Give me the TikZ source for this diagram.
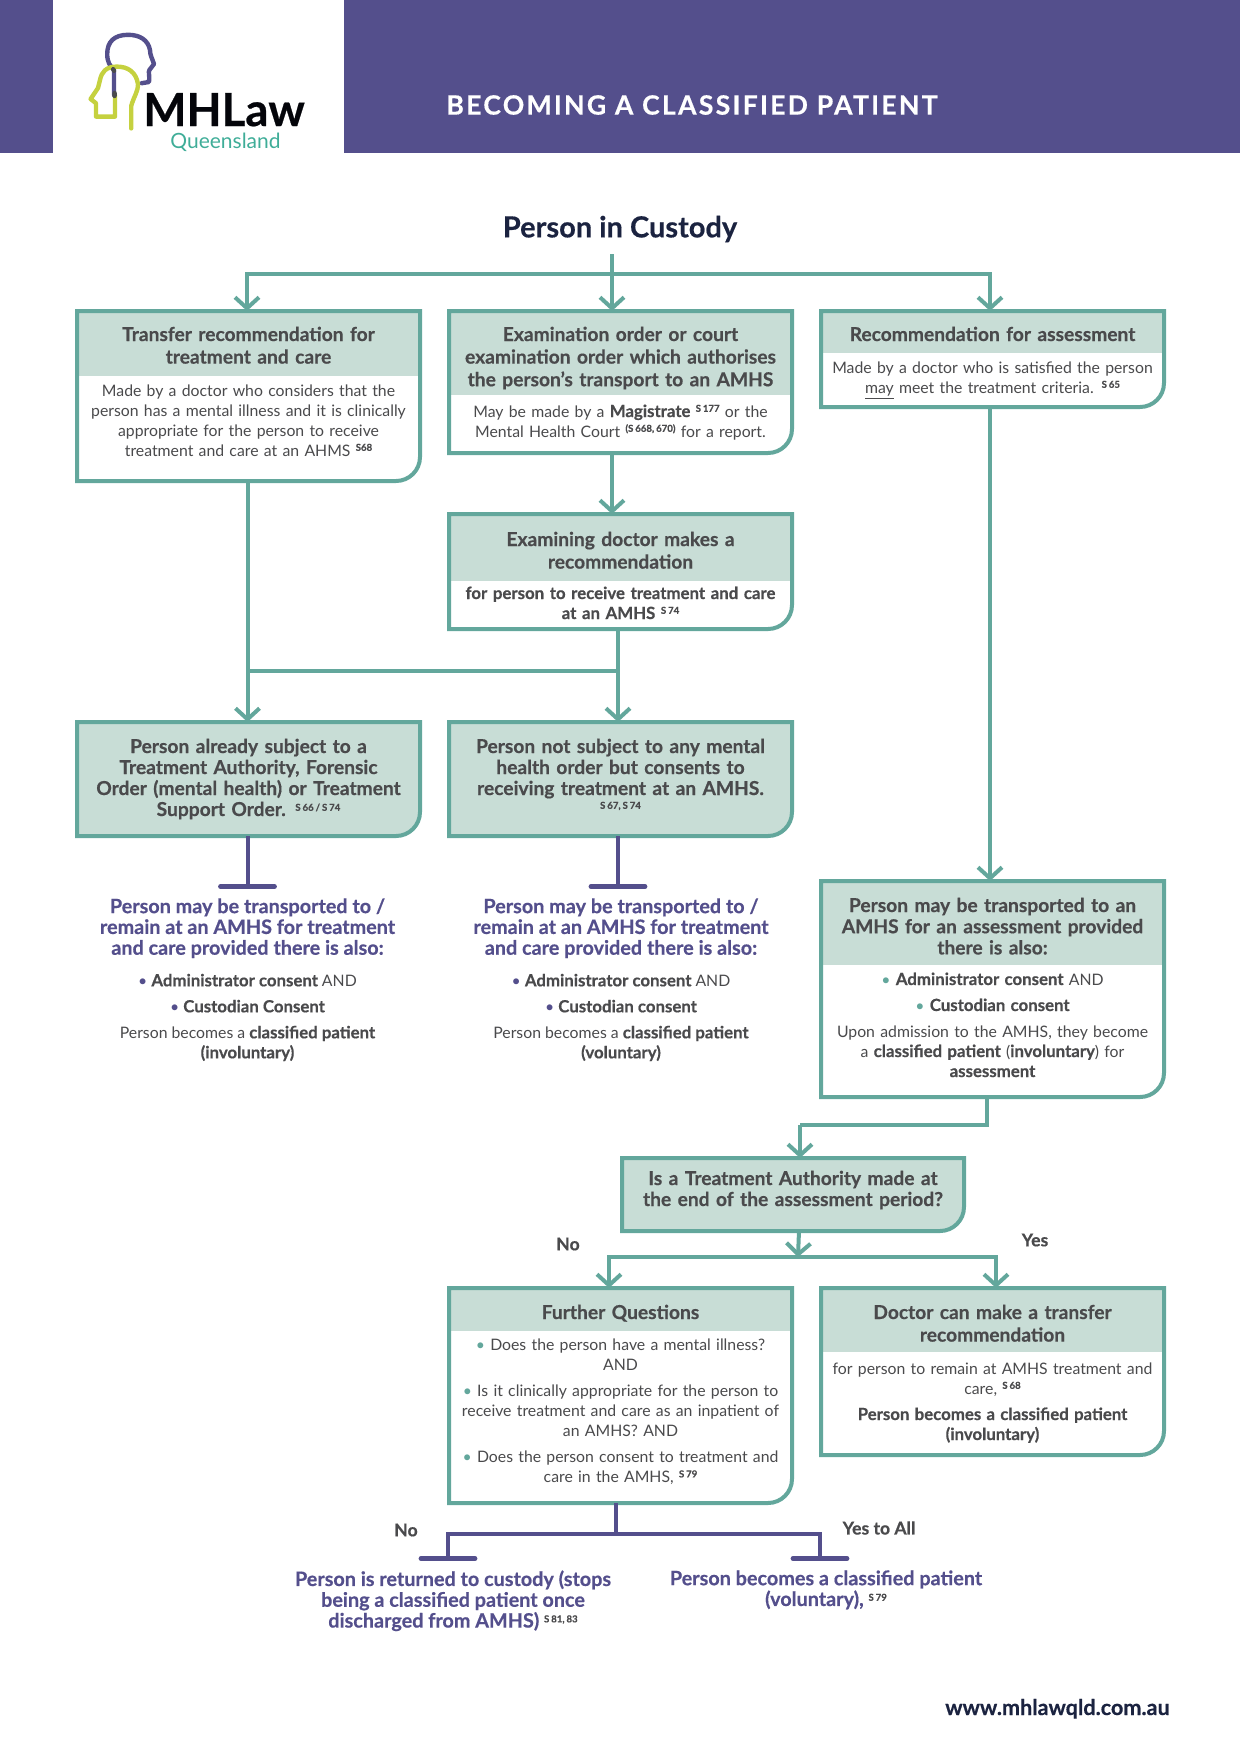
\documentclass[tikz,border=0pt]{standalone}
\usepackage{fontspec}
\setmainfont{Lato}[BoldFeatures={FakeBold=0.5}]
\usepackage{xcolor}
\usepackage{tikz}
\usetikzlibrary{positioning}
\usetikzlibrary{arrows.meta}
\usetikzlibrary{backgrounds}

\definecolor{flowteal}{HTML}{63A79C}
\definecolor{headgreen}{HTML}{C8DDD6}
\definecolor{mhpurple}{HTML}{544F8C}
\definecolor{inkgrey}{HTML}{4A4A4C}
\definecolor{inknavy}{HTML}{1B2340}
\definecolor{logolime}{HTML}{C5D13F}
\definecolor{logoteal}{HTML}{3FAD98}

\newcommand{\headfont}{\fontsize{9.6}{11.3}\selectfont\bfseries}
\newcommand{\solidfont}{\fontsize{9.6}{10.5}\selectfont\bfseries}
\newcommand{\bluefont}{\fontsize{9.9}{10.4}\selectfont\bfseries}
\newcommand{\bodyfont}{\fontsize{7.9}{10}\selectfont}
\newcommand{\bb}[1]{{\fontsize{8.4}{10}\selectfont\bfseries #1}}
\newcommand{\secref}[1]{\raisebox{2.6pt}{\fontsize{4.8}{5}\selectfont\bfseries\spaceskip=0.2em #1}}
\newcommand{\bul}[1]{{\color{#1}\textbullet}\ }

\tikzset{
  flow/.style={draw=flowteal, line width=2pt, -{Straight Barb[length=5.5pt,width=12pt,line width=2pt]}},
  flowline/.style={draw=flowteal, line width=2pt},
  tee/.style={draw=mhpurple, line width=2pt, -{Bar[width=27pt,line width=2.4pt,round]}},
  teeline/.style={draw=mhpurple, line width=2pt},
  boxline/.style={draw=flowteal, line width=2pt},
  part/.style={align=center, text width=161.5pt, inner xsep=5pt, inner ysep=0pt, outer sep=0pt, text=inkgrey},
  headbox/.style 2 args={part, fill=headgreen, font=\headfont, text height=#1, text depth=#2},
  solidbox/.style 2 args={part, font=\solidfont, text height=#1, text depth=#2},
  bodybox/.style 2 args={part, fill=white, font=\bodyfont, text height=#1, text depth=#2},
  bluetext/.style={align=center, inner sep=0pt, text=mhpurple, font=\bluefont},
  plaintext/.style={align=center, inner sep=0pt, text=inkgrey, font=\bodyfont},
  answer/.style={inner sep=0pt, text=inkgrey, font=\fontsize{8.8}{10}\selectfont\bfseries},
}

% outline of one box, round at its lower right corner only
\newcommand{\outline}[3][]{
  \draw[boxline,#1] (#3.south west) -- (#2.north west) -- (#2.north east)
    -- ([yshift=12pt]#3.south east) arc[start angle=0,end angle=-90,radius=12pt] -- cycle;
}

\begin{document}
\begin{tikzpicture}[x=1pt,y=-1pt]

  \useasboundingbox (0,0) rectangle (620,876.5);

  % Banner
  \fill[mhpurple] (0,0) rectangle (26.5,76.3);
  \fill[mhpurple] (172,0) rectangle (620,76.3);
  \node[anchor=west, inner sep=0pt, text=white, font=\fontsize{13.3}{15}\selectfont\bfseries\addfontfeature{LetterSpace=8.5}] (banner) at (223,52.5) {BECOMING A CLASSIFIED PATIENT};

  % Logo
  \draw[mhpurple, line width=2.2pt, line cap=round, line join=round]
    (70.8,41.6) -- (74.5,41) .. controls (75,38) and (74,36) .. (74.7,35) -- (77,32)
    .. controls (76,29) and (75,27.5) .. (75,25) .. controls (74,20) and (70,17.4) .. (64,17.4)
    .. controls (57,17.4) and (53.6,21) .. (53.6,27) .. controls (53.6,31) and (55,33) .. (57,35) -- (57,47.5);
  \draw[logolime, line width=2.2pt, line cap=round, line join=round]
    (65.6,64.2) -- (65.6,53) .. controls (67,48) and (69,46) .. (69,42)
    .. controls (68,36) and (64,33.3) .. (58.4,33.3) .. controls (53,33.3) and (50.8,36) .. (50,40)
    -- (49,44) -- (45.3,49.5) -- (48,51.6) -- (48,58.3) -- (57.5,58.3) -- (57.5,47.5);
  \draw[inkgrey, line width=2.2pt, line cap=round] (56.6,34.6) -- (57,35.4) (57.3,46.5) -- (57.3,48);
  \node[anchor=base west, inner sep=0pt, text=black!85!inknavy, font=\fontsize{22.8}{25}\selectfont\bfseries] (mhlaw) at (71.5,63) {MHLaw};
  \node[anchor=base west, inner sep=0pt, text=logoteal, font=\fontsize{10.5}{11}\selectfont] (queensland) at (85,74.3) {Queensland};

  % Define nodes
  \node[inner sep=0pt, text=inknavy, font=\fontsize{14.5}{16}\selectfont\bfseries] (custody) at (310,114.5) {Person in Custody};

  \node[headbox={15pt}{17.35pt}, anchor=north west] (trH) at (38.5,155.5) {Transfer recommendation for\\treatment and care};
  \node[bodybox={10.15pt}{42.5pt}, below=0pt of trH] (trB) {Made by a doctor who considers that the\\person has a mental illness and it is clinically\\appropriate for the person to receive\\treatment and care at an AHMS \secref{S68}};

  \node[headbox={15pt}{27pt}, below right=0pt and 14.5pt of trH.north east] (exH) {Examination order or court\\examination order which authorises\\the person's transport to an AMHS};
  \node[bodybox={11pt}{18pt}, below=0pt of exH] (exB) {May be made by a \bb{Magistrate} \secref{S 177} or the\\Mental Health Court \secref{(S 668, 670)} for a report.};

  \node[headbox={15pt}{5.85pt}, below right=0pt and 14.5pt of exH.north east] (rcH) {Recommendation for assessment};
  \node[bodybox={10.15pt}{17pt}, below=0pt of rcH] (rcB) {Made by a doctor who is satisfied the person\\\underline{may} meet the treatment criteria. \secref{S 65}};

  \node[headbox={16pt}{17.35pt}, below=30.5pt of exB] (edH) {Examining doctor makes a\\recommendation};
  \node[bodybox={9.15pt}{15pt}, below=0pt of edH, font=\fontsize{8.4}{10}\selectfont\bfseries] (edB) {for person to receive treatment and care\\at an AMHS \secref{S 74}};

  \node[solidbox={15.5pt}{41.5pt}, anchor=north west] (pa) at (38.5,361) {Person already subject to a\\Treatment Authority, Forensic\\Order (mental health) or Treatment\\Support Order. \secref{S 66 / S 74}};
  \node[solidbox={15.5pt}{41.5pt}, below right=0pt and 14.5pt of pa.north east] (pn) {Person not subject to any mental\\health order but consents to\\receiving treatment at an AMHS.\\[-1pt]\secref{S 67, S 74}};

  \coordinate[below=26.5pt of pa.south, xshift=-0.5pt] (paT);
  \coordinate[below=26.5pt of pn.south, xshift=-1.25pt] (pnT);
  \node[bluetext, below=4.5pt of paT] (paText) {Person may be transported to /\\remain at an AMHS for treatment\\and care provided there is also:};
  \node[bluetext, below=4.5pt of pnT, xshift=1.5pt] (pnText) {Person may be transported to /\\remain at an AMHS for treatment\\and care provided there is also:};
  \node[plaintext, below=7.5pt of paText] (paList) {\bul{mhpurple}\bb{Administrator consent} AND\\[3pt]\bul{mhpurple}\bb{Custodian Consent}\\[3pt]Person becomes a \bb{classified patient}\\\bb{(involuntary)}};
  \node[plaintext, below=7.5pt of pnText] (pnList) {\bul{mhpurple}\bb{Administrator consent} AND\\[3pt]\bul{mhpurple}\bb{Custodian consent}\\[3pt]Person becomes a \bb{classified patient}\\\bb{(voluntary)}};

  \node[headbox={15.5pt}{26.5pt}, anchor=north west, font=\fontsize{9.6}{10.6}\selectfont\bfseries] (asH) at (410.5,440.5) {Person may be transported to an\\AMHS for an assessment provided\\there is also:};
  \node[bodybox={10pt}{56pt}, below=0pt of asH] (asB) {\bul{flowteal}\bb{Administrator consent} AND\\[3pt]\bul{flowteal}\bb{Custodian consent}\\[3pt]Upon admission to the AMHS, they become\\a \bb{classified patient} (\bb{involuntary}) for\\\bb{assessment}};

  \node[solidbox={13.5pt}{23pt}, anchor=north west, text width=161pt] (tq) at (311,579) {Is a Treatment Authority made at\\the end of the assessment period?};

  \node[headbox={15.5pt}{6pt}, anchor=north west] (fqH) at (224.5,644) {Further Questions};
  \node[bodybox={9.8pt}{76.2pt}, below=0pt of fqH] (fqB) {\bul{flowteal}Does the person have a mental illness?\\AND\\[3pt]\bul{flowteal}Is it clinically appropriate for the person to\\receive treatment and care as an inpatient of\\an AMHS? AND\\[3pt]\bul{flowteal}Does the person consent to treatment and\\care in the AMHS, \secref{S 79}};

  \node[headbox={15.5pt}{16.5pt}, below right=0pt and 14.5pt of fqH.north east] (drH) {Doctor can make a transfer\\recommendation};
  \node[bodybox={11pt}{40.5pt}, below=0pt of drH] (drB) {for person to remain at AMHS treatment and\\care, \secref{S 68}\\[3pt]\bb{Person becomes a classified patient}\\\bb{(involuntary)}};

  \coordinate (retT) at (224,780.5);
  \coordinate (patT) at (410,780.5);
  \node[bluetext, below=4.5pt of retT, xshift=2.5pt] (retText) {Person is returned to custody (stops\\being a classified patient once\\discharged from AMHS) {\color{inkgrey}\secref{S 81, 83}}};
  \node[bluetext, below=4.5pt of patT, xshift=3pt] (patText) {Person becomes a classified patient\\(voluntary), {\color{inkgrey}\secref{S 79}}};

  \node[answer] (noA) at (284,622) {No};
  \node[answer] (yesA) at (517.5,620) {Yes};
  \node[answer] (noB) at (203,765) {No};
  \node[answer] (yesB) at (439.5,764) {Yes to All};

  \node[anchor=base east, inner sep=0pt, text=inknavy, font=\fontsize{10.8}{12}\selectfont\bfseries] (site) at (585,857.5) {www.mhlawqld.com.au};

  % Box outlines
  \outline{trH}{trB}
  \outline{exH}{exB}
  \outline{rcH}{rcB}
  \outline{edH}{edB}
  \outline{asH}{asB}
  \outline{fqH}{fqB}
  \outline{drH}{drB}
  \begin{pgfonlayer}{background}
    \outline[fill=headgreen]{pa}{pa}
    \outline[fill=headgreen]{pn}{pn}
    \outline[fill=headgreen]{tq}{tq}
  \end{pgfonlayer}

  % Connect nodes
  \coordinate (topS) at (306,127);
  \coordinate (topJ) at (306,136.85);
  \draw[flow] (topS) -- ([xshift=-4.25pt]exH.north);
  \draw[flow] (topJ) -| ([xshift=-0.75pt]trH.north);
  \draw[flow] (topJ) -| ([xshift=-1.25pt]rcH.north);
  \draw[flow] ([xshift=-4.25pt]exB.south) -- ([xshift=-4.25pt]edH.north);

  \coordinate (midL) at (123.75,335.5);
  \coordinate (midR) at (309,335.5);
  \draw[flow] ([xshift=-0.5pt]trB.south) -- ([xshift=-0.5pt]pa.north);
  \draw[flow] ([xshift=-1.25pt]edB.south) -- ([xshift=-1.25pt]pn.north);
  \draw[flowline] (midL) -- (midR);
  \draw[flow] ([xshift=-1.25pt]rcB.south) -- ([xshift=-1.25pt]asH.north);

  \draw[tee] ([xshift=-0.5pt]pa.south) -- (paT);
  \draw[tee] ([xshift=-1.25pt]pn.south) -- (pnT);

  \coordinate (asJ) at (400,562.5);
  \coordinate (tqJ) at (399,628.5);
  \draw[flowline] ([xshift=-3pt]asB.south) |- (asJ);
  \draw[flow] (asJ) -- ([xshift=3.5pt]tq.north);
  \draw[flow] ([xshift=3pt]tq.south) -- (tqJ);
  \draw[flow] (tqJ) -| ([xshift=-5.75pt]fqH.north);
  \draw[flow] (tqJ) -| ([xshift=1.75pt]drH.north);

  \coordinate (fqJ) at (307.8,767);
  \draw[teeline] ([xshift=-2.45pt]fqB.south) -- (fqJ);
  \draw[tee] (fqJ) -| (retT);
  \draw[tee] (fqJ) -| (patT);

\end{tikzpicture}
\end{document}
